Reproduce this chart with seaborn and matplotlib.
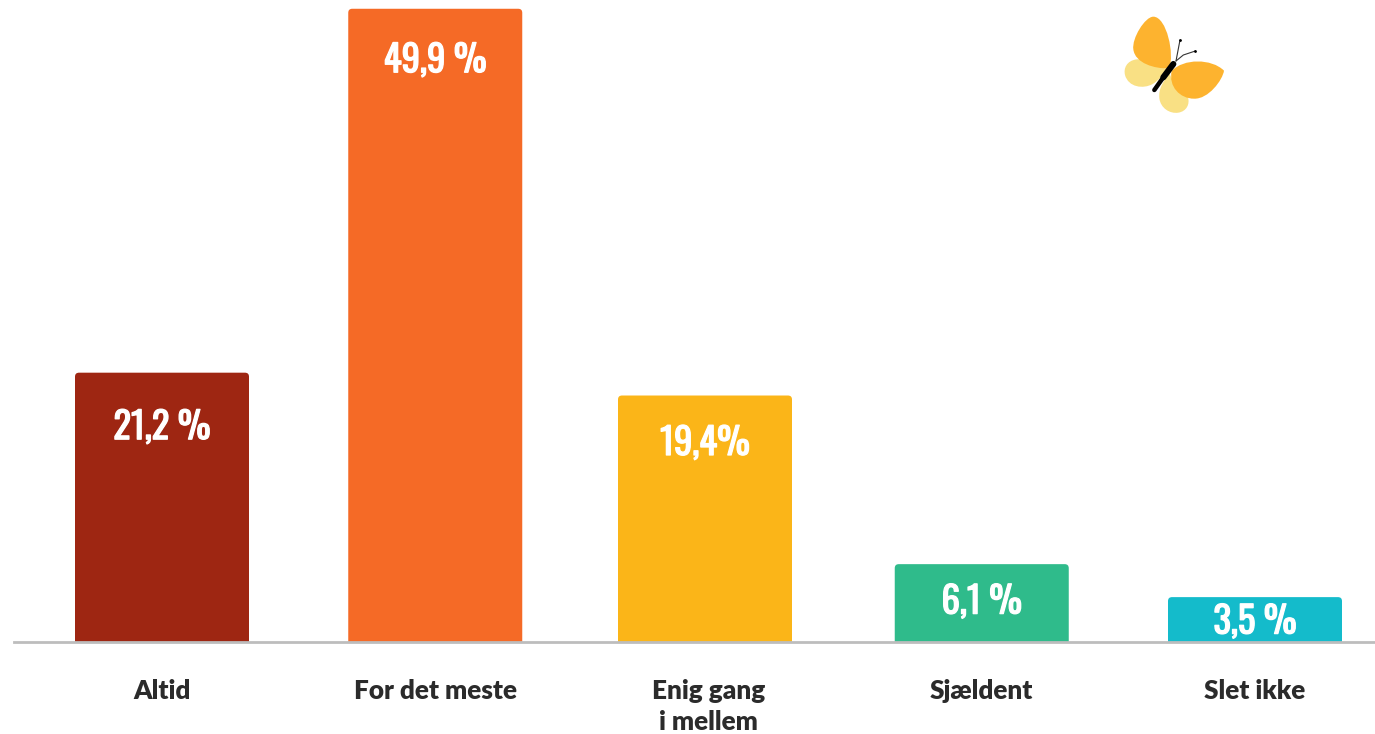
import matplotlib
matplotlib.use("Agg")
import matplotlib.patheffects as pe
import matplotlib.pyplot as plt
import pandas as pd
import seaborn as sns
from matplotlib.patches import FancyBboxPatch, PathPatch
from matplotlib.path import Path

categories = ["Altid", "For det meste", "Enig gang\ni mellem", "Sjældent", "Slet ikke"]
values = [21.2, 49.9, 19.4, 6.1, 3.5]
value_labels = ["21,2 %", "49,9 %", "19,4%", "6,1 %", "3,5 %"]
bar_colors = ["#9E2612", "#F56A26", "#FBB518", "#2FBB8B", "#14BBCB"]

# how far each label sits below its bar top, in pixels
label_drop = [55, 52, 48, 38, 25]
# the bars are not quite evenly spaced in the original
bar_shift = [0, 0, -3.5, 0, 0]

W, H = 1375, 734
BASE_Y = 641.5
PX_PER_UNIT = 12.68
PX_PER_CAT = 273.25

sns.set_theme(style="white")
plt.rcParams["font.family"] = ["Lato", "DejaVu Sans"]

df = pd.DataFrame({"category": categories, "value": values})

fig = plt.figure(figsize=(W / 100, H / 100), dpi=100)
ax = fig.add_axes([14 / W, 1 - BASE_Y / H, (W - 14) / W, BASE_Y / H])

sns.barplot(
    data=df, x="category", y="value", hue="category",
    palette=bar_colors, legend=False, width=174 / PX_PER_CAT, ax=ax,
)
ax.set_xlim((14 - 162) / PX_PER_CAT, (W - 162) / PX_PER_CAT)
ax.set_ylim(0, BASE_Y / PX_PER_UNIT)
ax.set_xlabel("")
ax.set_ylabel("")
ax.set_yticks([])
sns.despine(ax=ax, left=True)
ax.spines["bottom"].set_color("#BDBDBD")
ax.spines["bottom"].set_linewidth(2)
ax.spines["bottom"].set_zorder(5)
ax.tick_params(axis="x", length=0, pad=27)
for tick in ax.get_xticklabels():
    tick.set_fontsize(18.8)
    tick.set_fontweight(800)
    tick.set_color("#2B2B2B")
    tick.set_linespacing(1.36)

# swap the square bars for ones with slightly rounded corners
r = 4 / PX_PER_CAT
for bar, color, val, text, drop, shift in zip(
    list(ax.patches), bar_colors, values, value_labels, label_drop, bar_shift
):
    x = bar.get_x() + shift / PX_PER_CAT
    w = bar.get_width()
    bar.set_visible(False)
    rounded = FancyBboxPatch(
        (x + r, -2), w - 2 * r, val + 2 - r * PX_PER_CAT / PX_PER_UNIT,
        boxstyle=f"round,pad={r},rounding_size={r}",
        mutation_aspect=PX_PER_CAT / PX_PER_UNIT,
        facecolor=color, edgecolor="none", zorder=3,
    )
    ax.add_patch(rounded)
    label = ax.annotate(
        text, (x + w / 2, val), xytext=(0, -drop * 0.72), textcoords="offset points",
        ha="center", va="center", color="white", fontsize=26.5,
        family=["Oswald", "DejaVu Sans"], zorder=4,
    )
    # only a regular cut of the font is available, thicken it a bit
    label.set_path_effects([pe.withStroke(linewidth=0.9, foreground="white")])

# butterfly in the top right corner
deco = fig.add_axes([1100 / W, 1 - 130 / H, 150 / W, 130 / H])
deco.set_xlim(0, 450)
deco.set_ylim(390, 0)
deco.axis("off")


def blob(points, color):
    codes = [Path.MOVETO] + [Path.CURVE4] * (len(points) - 1)
    deco.add_patch(PathPatch(Path(points, codes), facecolor=color, edgecolor="none"))


blob([(200, 205), (170, 205), (135, 175), (110, 178), (80, 182), (70, 205), (75, 225),
      (85, 262), (130, 268), (158, 252), (178, 240), (192, 222), (200, 205)], "#F9E084")
blob([(208, 220), (190, 245), (175, 265), (178, 295), (182, 325), (210, 342), (235, 338),
      (260, 334), (270, 312), (264, 292), (240, 280), (222, 250), (208, 220)], "#F9E084")
blob([(207, 205), (225, 165), (200, 50), (160, 50), (135, 50), (95, 115), (100, 148),
      (105, 190), (165, 207), (207, 205)], "#FDB32F")
blob([(215, 213), (250, 175), (335, 175), (372, 212), (368, 240), (325, 298), (282, 296),
      (240, 296), (205, 260), (215, 213)], "#FDB32F")
deco.plot([163, 190], [270, 232], color="black", lw=3.2, solid_capstyle="round")
deco.plot([190, 220], [232, 192], color="black", lw=4.4, solid_capstyle="round")
deco.plot([228, 240], [183, 120], color="#333333", lw=0.8)
deco.plot([228, 250, 286], [183, 165, 153], color="#333333", lw=0.8)
deco.plot([240, 286], [120, 153], color="black", lw=0, marker="o", ms=1)

fig.savefig("out.png", dpi=100)
